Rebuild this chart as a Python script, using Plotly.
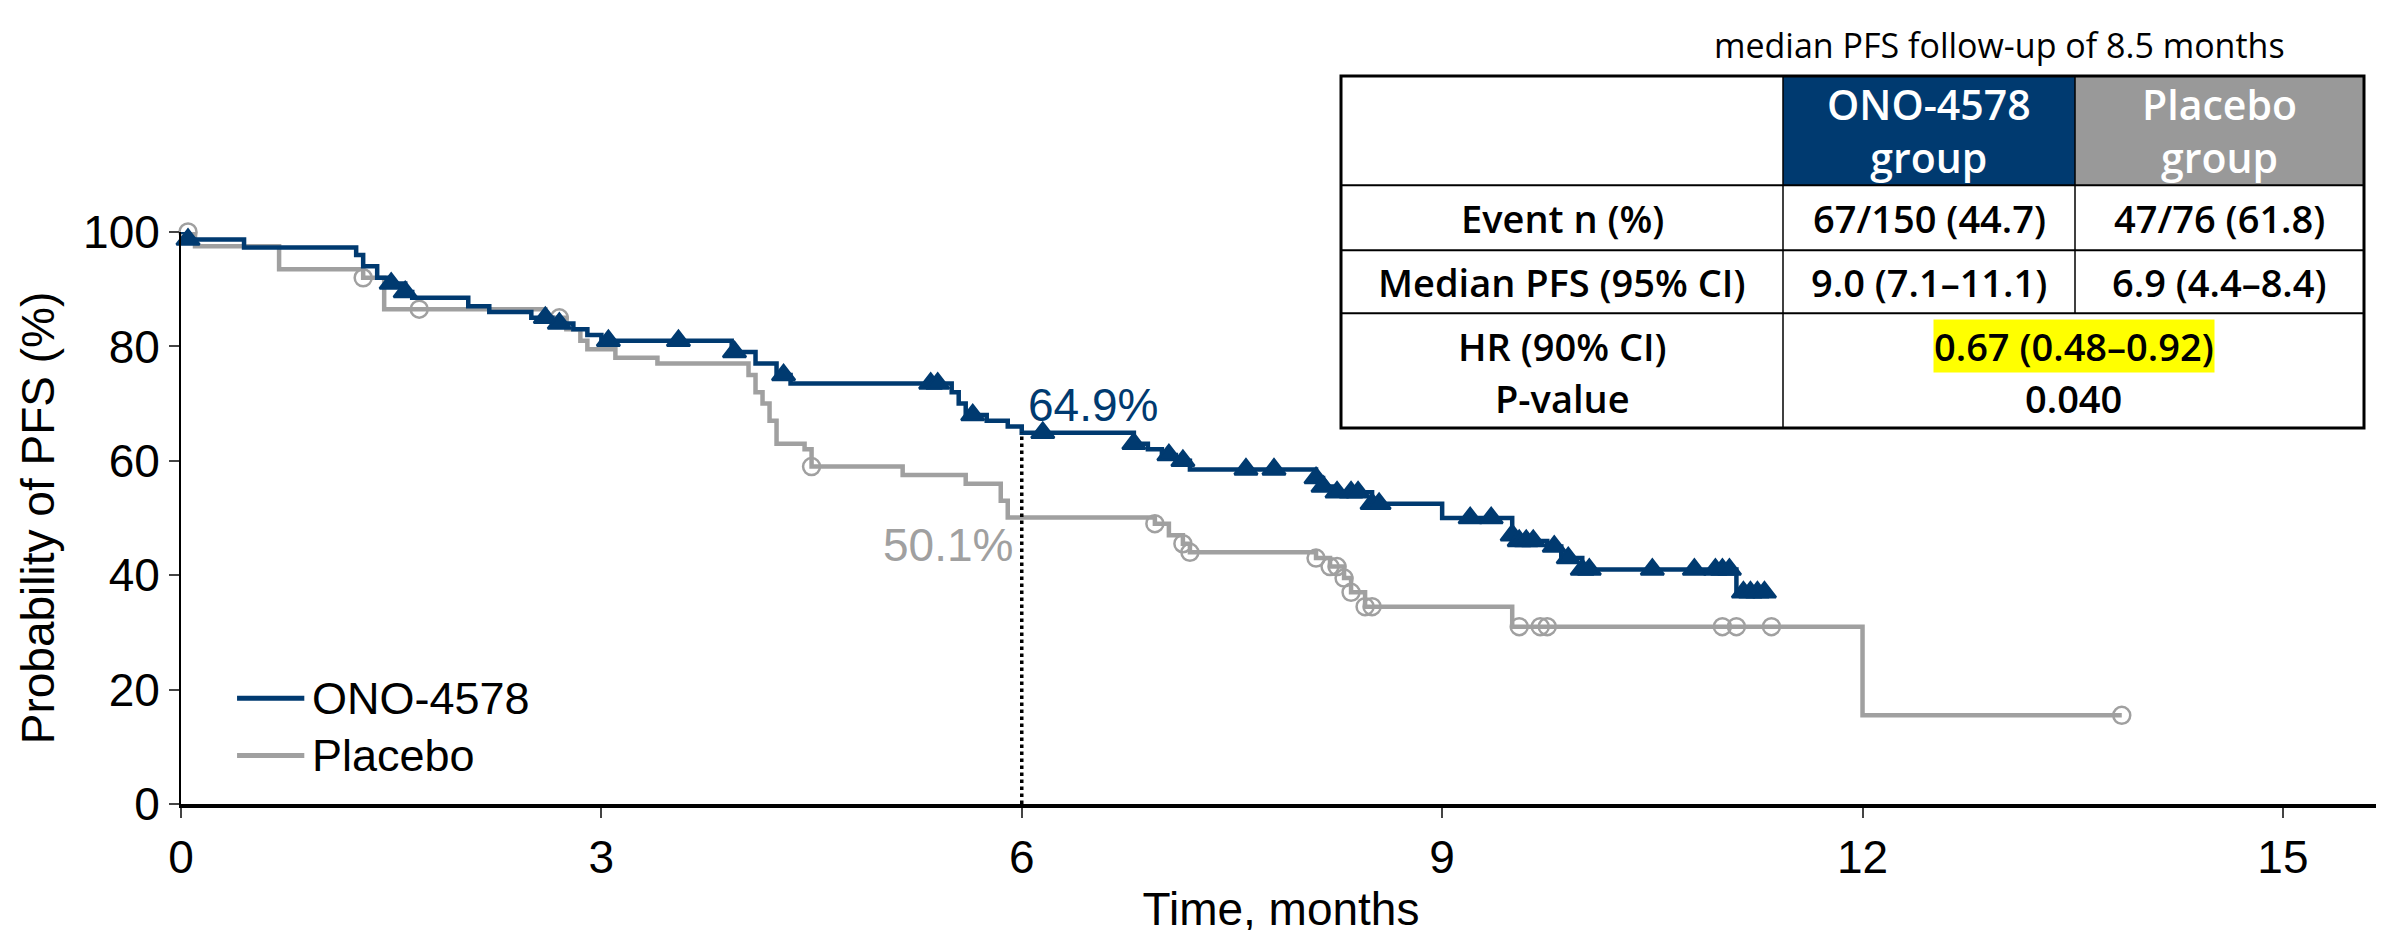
import plotly.graph_objects as go

# ---------------------------------------------------------------------------
# Data (step curves + censor marks)
# ---------------------------------------------------------------------------
ono_t = [0, 0.05, 0.45, 1.25, 1.3, 1.4, 1.5, 1.6, 1.65, 2.05, 2.2, 2.5, 2.65, 2.8, 2.9, 3.0,
         3.93, 4.1, 4.25, 4.35, 5.5, 5.55, 5.6, 5.75, 5.9, 6.0, 6.8, 6.9, 7.0, 7.1, 7.2,
         8.1, 8.15, 8.25, 8.5, 8.55, 9.0, 9.5, 9.55, 9.75, 9.85, 10.0, 11.1, 11.35]
ono_s = [100, 98.7, 97.3, 96.0, 94.0, 92.0, 91.0, 89.5, 88.5, 87.0, 86.0, 85.0, 84.0, 83.0, 82.0, 81.0,
         79.0, 77.0, 75.0, 73.5, 72.0, 70.0, 68.0, 67.0, 66.0, 64.9, 63.0, 62.0, 61.0, 60.0, 58.5,
         57.0, 55.5, 54.5, 52.5, 52.5, 50.0, 47.0, 46.0, 45.0, 43.0, 41.0, 37.0, 37.0]
ono_cens = [0.05, 1.5, 1.6, 2.6, 2.7, 3.05, 3.55, 3.95, 4.3, 5.35, 5.4, 5.65, 6.15, 6.8, 7.05,
            7.15, 7.6, 7.8, 8.1, 8.15, 8.25, 8.35, 8.4, 8.5, 8.55, 9.2, 9.35, 9.5, 9.55, 9.6,
            9.65, 9.8, 9.9, 10.0, 10.05, 10.5, 10.8, 10.95, 11.0, 11.05, 11.15, 11.2, 11.25, 11.3]

pla_t = [0, 0.1, 0.7, 1.3, 1.45, 2.6, 2.75, 2.85, 2.9, 3.1, 3.4, 4.05, 4.1, 4.15, 4.2, 4.25,
         4.45, 4.5, 5.15, 5.6, 5.85, 5.9, 6.95, 7.05, 7.15, 7.2, 8.1, 8.2, 8.3, 8.35, 8.45,
         9.5, 12.0, 13.85]
pla_s = [100, 97.5, 93.5, 92.0, 86.5, 85.0, 83.0, 81.0, 79.5, 78.0, 77.0, 75.0, 72.0, 70.0, 67.0, 63.0,
         62.0, 59.0, 57.5, 56.0, 53.0, 50.1, 49.0, 47.0, 45.5, 44.0, 43.0, 41.5, 39.5, 37.0, 34.5,
         31.0, 15.5, 15.5]
pla_cens = [0.05, 1.3, 1.7, 2.7, 4.5, 6.95, 7.15, 7.2, 8.1, 8.2, 8.25, 8.3, 8.35, 8.45, 8.5,
            9.55, 9.7, 9.75, 11.0, 11.1, 11.35, 13.85]

x_ticks = [0, 3, 6, 9, 12, 15]
y_ticks = [0, 20, 40, 60, 80, 100]

BLUE = "#003a70"
GRAY = "#a0a0a0"

W, H = 2384, 930
L, R_PX, T_PX, B_PX = 173, 2373, 224, 822


def surv_at(ts, ss, t):
    val = ss[0]
    for ti, si in zip(ts, ss):
        if ti <= t:
            val = si
    return val


def px(x):  # pixel -> paper x
    return (x - L) / (R_PX - L)


def py(y):  # pixel -> paper y
    return (B_PX - y) / (B_PX - T_PX)


fig = go.Figure()

for ts, ss, cens, col, sym, msize, name in [
    (pla_t, pla_s, pla_cens, GRAY, "circle-open", 17, "Placebo"),
    (ono_t, ono_s, ono_cens, BLUE, "triangle-up", 20, "ONO-4578"),
]:
    fig.add_trace(go.Scatter(x=ts, y=ss, mode="lines", line=dict(color=col, width=4.5, shape="hv"),
                             name=name, showlegend=False, cliponaxis=False))
    fig.add_trace(go.Scatter(x=cens, y=[surv_at(ts, ss, c) for c in cens], mode="markers",
                             marker=dict(symbol=sym, color=col, size=msize,
                                         line=dict(color=col, width=2.5)),
                             showlegend=False, cliponaxis=False))

# dashed marker at 6 months
fig.add_shape(type="line", x0=6, x1=6, y0=0, y1=surv_at(ono_t, ono_s, 6),
              line=dict(color="black", width=3.5, dash="dot"))
fig.add_annotation(x=6.03, y=64.9, text="64.9%", showarrow=False, xanchor="left", yanchor="bottom",
                   font=dict(family="Liberation Sans, Arial", size=46, color=BLUE))
fig.add_annotation(x=5.95, y=50.1, text="50.1%", showarrow=False, xanchor="right", yanchor="top",
                   font=dict(family="Liberation Sans, Arial", size=46, color=GRAY))

# manual legend
for i, (lab, col) in enumerate([("ONO-4578", BLUE), ("Placebo", GRAY)]):
    yy = 18.5 - i * 10
    fig.add_shape(type="line", x0=0.4, x1=0.88, y0=yy, y1=yy, line=dict(color=col, width=5))
    fig.add_annotation(x=0.92, y=yy, text=lab, showarrow=False, xanchor="left",
                       font=dict(family="Liberation Sans, Arial", size=45, color="black"))

# ---------------------------------------------------------------------------
# Summary table (pixel coordinates -> paper)
# ---------------------------------------------------------------------------
cols = [1333, 1775, 2067, 2356]
rows = [61, 175, 243, 309, 429]
fig.add_shape(type="rect", xref="paper", yref="paper", x0=px(cols[1]), x1=px(cols[2]),
              y0=py(rows[1]), y1=py(rows[0]), fillcolor=BLUE, line_width=0, layer="below")
fig.add_shape(type="rect", xref="paper", yref="paper", x0=px(cols[2]), x1=px(cols[3]),
              y0=py(rows[1]), y1=py(rows[0]), fillcolor="#999999", line_width=0, layer="below")
fig.add_shape(type="rect", xref="paper", yref="paper", x0=px(cols[0]), x1=px(cols[3]),
              y0=py(rows[-1]), y1=py(rows[0]), line=dict(color="black", width=3))
for r in rows[1:-1]:
    fig.add_shape(type="line", xref="paper", yref="paper", x0=px(cols[0]), x1=px(cols[3]),
                  y0=py(r), y1=py(r), line=dict(color="black", width=2))
fig.add_shape(type="line", xref="paper", yref="paper", x0=px(cols[1]), x1=px(cols[1]),
              y0=py(rows[-1]), y1=py(rows[0]), line=dict(color="black", width=1.5))
fig.add_shape(type="line", xref="paper", yref="paper", x0=px(cols[2]), x1=px(cols[2]),
              y0=py(rows[3]), y1=py(rows[0]), line=dict(color="black", width=1.5))

TF = "Open Sans"


def cell(xc, yc, text, color="black", size=38, bg=None):
    fig.add_annotation(xref="paper", yref="paper", x=px(xc), y=py(yc), text=text, showarrow=False,
                       xanchor="center", yanchor="middle",
                       font=dict(size=size, color=color, family=TF, weight=600),
                       bgcolor=bg, borderpad=0)


c0 = (cols[0] + cols[1]) / 2
c1 = (cols[1] + cols[2]) / 2
c2 = (cols[2] + cols[3]) / 2
c12 = (cols[1] + cols[3]) / 2
cell(c1, 118, "ONO-4578<br>group", "white", 41)
cell(c2, 118, "Placebo<br>group", "white", 41)
cell(c0, 209, "Event n (%)")
cell(c1, 209, "67/150 (44.7)")
cell(c2, 209, "47/76 (61.8)")
cell(c0, 276, "Median PFS (95% CI)")
cell(c1, 276, "9.0 (7.1–11.1)")
cell(c2, 276, "6.9 (4.4–8.4)")
cell(c0, 343, "HR (90% CI)")
cell(c0, 398, "P-value")
cell(c12, 343, "0.67 (0.48–0.92)", bg="#ffff00")
cell(c12, 398, "0.040")
fig.add_annotation(xref="paper", yref="paper", x=px(1991), y=py(28), text="median PFS follow-up of 8.5 months",
                   showarrow=False, xanchor="center", yanchor="middle",
                   font=dict(size=34, color="black", family=TF))

axis_font = dict(family="Liberation Sans, Arial", size=46, color="black")
fig.update_xaxes(range=[0, 15.7], tickvals=x_ticks, showline=True, linecolor="black", linewidth=4,
                 ticks="outside", ticklen=10, tickwidth=2, tickfont=axis_font, showgrid=False,
                 zeroline=False, title=dict(text="Time, months", font=axis_font, standoff=12))
fig.update_yaxes(range=[0, 100], tickvals=y_ticks, showline=True, linecolor="black", linewidth=2,
                 ticks="outside", ticklen=10, tickwidth=2, tickfont=axis_font, showgrid=False,
                 zeroline=False, title=dict(text="Probability of PFS (%)", font=axis_font, standoff=14))
fig.update_layout(width=W, height=H, plot_bgcolor="white", paper_bgcolor="white",
                  margin=dict(l=L, r=W - R_PX, t=T_PX, b=H - B_PX), showlegend=False)

fig.write_html("out.html")
